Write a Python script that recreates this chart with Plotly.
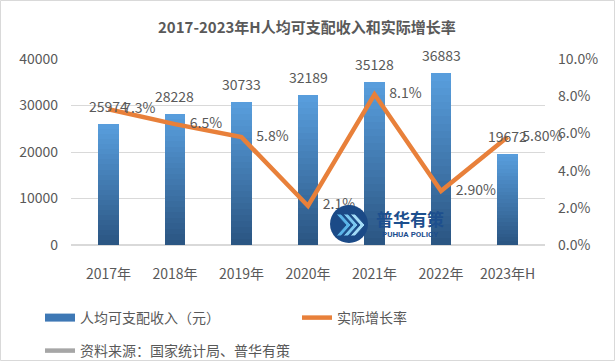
import plotly.graph_objects as go

categories = ["2017年", "2018年", "2019年", "2020年", "2021年", "2022年", "2023年H"]
income = [25974, 28228, 30733, 32189, 35128, 36883, 19672]
growth = [7.3, 6.5, 5.8, 2.1, 8.1, 2.9, 5.8]
growth_labels = ["7.3%", "6.5%", "5.8%", "2.1%", "8.1%", "2.90%", "5.80%"]
income_name = "人均可支配收入（元）"
growth_name = "实际增长率"
source_name = "资料来源：国家统计局、普华有策"
title_text = "2017-2023年H人均可支配收入和实际增长率"

W, H = 615, 361
L, R, T, B = 71, 70, 59, 116
FONT = "Microsoft YaHei, Noto Sans CJK SC, sans-serif"
GRAY = "#595959"

def lerp(c1, c2, t):
    a = [int(c1[i:i + 2], 16) for i in (1, 3, 5)]
    b = [int(c2[i:i + 2], 16) for i in (1, 3, 5)]
    return "#%02x%02x%02x" % tuple(round(a[j] + (b[j] - a[j]) * t) for j in range(3))

top_c, bot_c = "#589ddc", "#2b5683"
N = 24
fig = go.Figure()
for k in range(N):
    frac = 1 - k / N
    fig.add_trace(go.Bar(
        x=categories, y=[v * frac for v in income], width=0.31,
        marker=dict(color=lerp(top_c, bot_c, k / (N - 1)), line=dict(width=0)),
        showlegend=False, hoverinfo="skip", yaxis="y"))

# legend-only entry for the bars (wide rectangle symbol)
fig.add_trace(go.Scatter(x=[None], y=[None], mode="lines", name=income_name,
                         line=dict(color="#3e78b5", width=8), legend="legend"))

fig.add_trace(go.Scatter(x=categories, y=growth, yaxis="y2", mode="lines",
                         line=dict(color="#e8803a", width=4.5), name=growth_name,
                         legend="legend3"))

fig.add_trace(go.Scatter(x=categories, y=growth, yaxis="y2", mode="markers+text",
                         text=growth_labels, textposition="middle right",
                         marker=dict(size=22, opacity=0),
                         textfont=dict(family=FONT, size=14, color=GRAY),
                         showlegend=False, hoverinfo="skip", cliponaxis=False))

fig.add_trace(go.Scatter(x=[None], y=[None], mode="lines", name=source_name,
                         line=dict(color="#a6a6a6", width=4.5), legend="legend2"))

annotations = []
for c, v in zip(categories, income):
    annotations.append(dict(x=c, y=v, xref="x", yref="y", text=str(v), showarrow=False,
                            yshift=18, font=dict(family=FONT, size=14, color=GRAY)))

pw = W - L - R
ph = H - T - B
def px(x):
    return (x - L) / pw
def py(y):
    return 1 - (y - T) / ph

# logo watermark
annotations += [
    dict(x=px(410), y=py(218), xref="paper", yref="paper", text="<b>普华有策</b>",
         xanchor="center", yanchor="middle",
         showarrow=False, font=dict(family=FONT, size=17, color="#1d4f8e")),
    dict(x=px(410), y=py(234), xref="paper", yref="paper", text="<b>PUHUA POLICY</b>",
         xanchor="center", yanchor="middle",
         showarrow=False, font=dict(family="Roboto, sans-serif", size=8, color="#1d4f8e")),
    dict(x=px(307), y=py(27), xref="paper", yref="paper", text="<b>" + title_text + "</b>",
         xanchor="center", yanchor="middle",
         showarrow=False, font=dict(family=FONT, size=15, color=GRAY)),
]

def poly(pts):
    return "M " + " L ".join("%f,%f" % (px(x), py(y)) for x, y in pts) + " Z"

def chevron(x0, cy, w=10, h=22, t=5):
    return [(x0, cy - h / 2), (x0 + t, cy - h / 2), (x0 + t + w, cy), (x0 + t, cy + h / 2),
            (x0, cy + h / 2), (x0 + w, cy)]

shapes = [
    dict(type="rect", xref="paper", yref="paper", x0=px(0.5), x1=px(614.5),
         y0=py(360.5), y1=py(0.5), line=dict(color="#d9d9d9", width=1), layer="below"),
    dict(type="circle", xref="paper", yref="paper", x0=px(330), x1=px(368),
         y0=py(243), y1=py(205), fillcolor="#1b4a87", line=dict(width=0), layer="above"),
]
for x0, col in [(336, "#5ab4e8"), (343, "#7cc8f0"), (350, "#a3dcf7")]:
    shapes.append(dict(type="path", xref="paper", yref="paper", path=poly(chevron(x0, 225)),
                       fillcolor=col, line=dict(color="#1b4a87", width=1), layer="above"))

leg_common = dict(orientation="h", xanchor="left", yanchor="middle", itemwidth=30,
                  font=dict(size=14, color=GRAY), bgcolor="rgba(0,0,0,0)")

fig.update_layout(
    width=W, height=H, margin=dict(l=L, r=R, t=T, b=B, autoexpand=False),
    paper_bgcolor="white", plot_bgcolor="white",
    barmode="overlay", bargap=0,
    font=dict(family=FONT, size=14, color=GRAY),
    xaxis=dict(type="category", showgrid=False, showline=False, ticks="",
               tickfont=dict(size=14, color=GRAY), ticklabelstandoff=19),
    yaxis=dict(range=[0, 40000], dtick=10000, tickformat="d", showgrid=True,
               gridcolor="#d9d9d9", gridwidth=1, zeroline=True, zerolinecolor="#d9d9d9",
               showline=False, tickfont=dict(size=14, color=GRAY), ticklabelstandoff=12),
    yaxis2=dict(range=[0, 10], dtick=2, overlaying="y", side="right", showgrid=False,
                zeroline=False, ticksuffix="%", tickformat=".1f",
                tickfont=dict(size=14, color=GRAY), ticklabelstandoff=12),
    legend=dict(x=px(40), y=py(318), **leg_common),
    legend3=dict(x=px(297), y=py(318), **leg_common),
    legend2=dict(x=px(40), y=py(351), **leg_common),
    annotations=annotations, shapes=shapes,
)

fig.write_html("out.html", config={"displayModeBar": False},
               post_script="document.body.style.margin='0';document.body.style.overflow='hidden';")
